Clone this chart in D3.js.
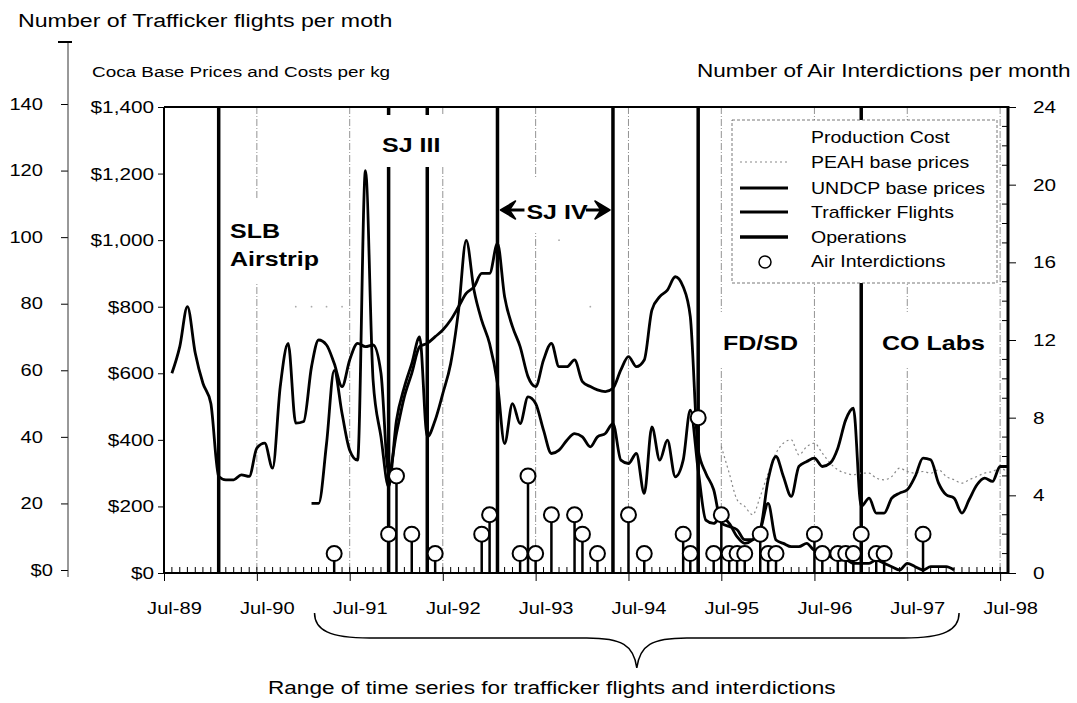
<!DOCTYPE html>
<html>
<head>
<meta charset="utf-8">
<script src="https://cdn.jsdelivr.net/npm/d3@7"></script>
<style>
body { margin: 0; background: #fff; }
svg { display: block; font-family: "Liberation Sans", Arial, sans-serif; }
</style>
</head>
<body>
<div id="chart"></div>
<script>
// ---- data ----
// monthly series, first value belongs to the start month
var undcpStart = "1989-08";
var undcpPrices = [600, 680, 800, 660, 570, 510, 290, 280, 280, 295, 290, 375, 390, 315, 560, 690,
    450, 455, 620, 700, 685, 630, 560, 640, 690, 680, 685, 600, 300, 420, 530, 600, 680, 690, 710,
    730, 760, 800, 840, 860, 900, 900, 990, 830, 740, 680, 590, 560, 640, 690, 620, 620, 640, 575,
    560, 550, 545, 555, 610, 650, 620, 640, 790, 830, 850, 890, 860, 770, 370, 300, 250, 150, 140,
    130, 100, 100, 130, 280, 350, 290, 230, 320, 335, 345, 320, 330, 375, 460, 495, 200, 225, 180,
    180, 225, 240, 250, 290, 345, 340, 270, 235, 225, 180, 220, 265, 285, 275, 320, 320];

var flightsStart = "1991-02";
var traffickerFlights = [20, 20, 38, 60, 47, 36, 33, 120, 57, 40, 25, 45, 55, 62, 70, 40, 45, 53,
    62, 78, 99, 84, 75, 68, 56, 38, 50, 44, 52, 50, 42, 35, 36, 39, 41, 40, 37, 40, 41, 44, 33, 32,
    35, 23, 43, 33, 39, 28, 33, 48, 30, 15, 14, 16, 14, 10, 8, 9, 12, 20, 9, 8, 7, 7, 8, 6, 6, 4, 3,
    3, 2, 2, 2, 3, 2, 1, 0, 2, 1, 0, 1, 1, 1, 0];

var peahStart = "1995-07";
var peahPrices = [380, 300, 220, 200, 175, 230, 300, 360, 390, 400, 355, 380, 390, 360, 330, 310,
    300, 295, 300, 300, 285, 280, 290, 315, 305, 300, 305, 300, 310, 290, 280, 270, 280, 290, 300,
    305, 315, 300];

// production cost is only a few faint dots in the scan
var prodCostMonths = ["1990-12", "1991-02", "1991-04", "1991-06", "1993-10", "1994-02"];
var prodCostValues = [800, 800, 800, 800, 1000, 800];

var interdictionMonths = ["1991-05", "1991-12", "1992-01", "1992-03", "1992-06", "1992-12",
    "1993-01", "1993-05", "1993-06", "1993-07", "1993-09", "1993-12", "1994-01", "1994-03",
    "1994-07", "1994-09", "1995-02", "1995-03", "1995-04", "1995-06", "1995-07", "1995-08",
    "1995-09", "1995-10", "1995-12", "1996-01", "1996-02", "1996-07", "1996-08", "1996-10",
    "1996-11", "1996-12", "1997-01", "1997-03", "1997-04", "1997-09"];
var interdictionCounts = [1, 2, 5, 2, 1, 2, 3, 1, 5, 1, 3, 3, 2, 1, 3, 1, 2, 1, 8, 1, 3, 1, 1, 1,
    2, 1, 1, 2, 1, 1, 1, 1, 2, 1, 1, 2];

var operationMonths = ["1990-02", "1991-12", "1992-05", "1993-02", "1994-05", "1995-04", "1997-01"];

var yearTicks = ["1989-07", "1990-07", "1991-07", "1992-07", "1993-07", "1994-07", "1995-07",
    "1996-07", "1997-07", "1998-07"];
var priceTicks = [0, 200, 400, 600, 800, 1000, 1200, 1400];
var flightTicks = [0, 20, 40, 60, 80, 100, 120, 140];
var interdictionTicks = [0, 4, 8, 12, 16, 20, 24];
var legendLabels = ["Production Cost", "PEAH base prices", "UNDCP base prices",
    "Trafficker Flights", "Operations", "Air Interdictions"];

// ---- setup ----
var W = 1077, H = 703;
var SX = 1.22;   // the scan is stretched sideways, so text is too
var parse = d3.timeParse("%Y-%m");

function monthly(start, vals) {
    var s = parse(start);
    return vals.map((v, i) => ({ date: d3.timeMonth.offset(s, i), value: v }));
}

var svg = d3.select("#chart").append("svg")
    .attr("width", W)
    .attr("height", H);

var x = d3.scaleTime().domain([parse("1989-07"), parse("1998-08")]).range([164, 1008]);
var yPrice = d3.scaleLinear().domain([0, 1400]).range([573, 107]);
var yFlights = d3.scaleLinear().domain([0, 140]).range([570, 104]);
var yInter = d3.scaleLinear().domain([0, 24]).range([573, 107]);

// widen text around its anchor point
function stretch(sel) {
    sel.each(function () {
        var t = d3.select(this);
        var tx = +t.attr("x") || 0, ty = +t.attr("y") || 0;
        t.attr("x", null).attr("y", null)
            .attr("transform", "translate(" + tx + "," + ty + ") scale(" + SX + ",1)");
    });
}

function addText(px, py, str, size, bold, anchor) {
    return svg.append("text")
        .attr("x", px).attr("y", py)
        .attr("font-size", size)
        .attr("font-weight", bold ? "bold" : "normal")
        .attr("text-anchor", anchor || "start")
        .attr("fill", "#000")
        .text(str)
        .call(stretch);
}

// ---- grid lines at each July ----
svg.append("g").selectAll("line")
    .data(yearTicks.slice(1))
    .enter().append("line")
    .attr("x1", d => x(parse(d))).attr("x2", d => x(parse(d)))
    .attr("y1", yPrice(1400)).attr("y2", yPrice(0))
    .attr("stroke", "#777")
    .attr("stroke-width", 0.8)
    .attr("stroke-dasharray", "7,2,1,2");

// ---- operations ----
svg.append("g").selectAll("line")
    .data(operationMonths)
    .enter().append("line")
    .attr("x1", d => x(parse(d))).attr("x2", d => x(parse(d)))
    .attr("y1", yPrice(1400)).attr("y2", yPrice(0))
    .attr("stroke", "#000")
    .attr("stroke-width", 3.5);

// ---- operation labels (white boxes hide the lines behind them) ----
var boxes = [[224, 200, 100, 83], [378, 115, 68, 52], [500, 177, 110, 56],
    [718, 312, 84, 55], [878, 312, 112, 55]];
svg.append("g").selectAll("rect")
    .data(boxes)
    .enter().append("rect")
    .attr("x", d => d[0]).attr("y", d => d[1])
    .attr("width", d => d[2]).attr("height", d => d[3])
    .attr("fill", "#fff");

addText(230, 238, "SLB", 20.5, true);
addText(230, 266, "Airstrip", 20.5, true);
addText(382, 152, "SJ III", 20.5, true);
addText(557, 219, "SJ IV", 20.5, true, "middle");
addText(723, 350, "FD/SD", 20.5, true);
addText(882, 350, "CO Labs", 20.5, true);

// SJ IV arrows between its two operation lines (filled heads, short shafts)
var xa = x(parse(operationMonths[3])) + 3, xb = x(parse(operationMonths[4])) - 3;
svg.append("path")
    .attr("d", "M" + xa + ",210 L" + (xa + 15) + ",201 L" + (xa + 9) + ",210 L" + (xa + 15) + ",219 Z" +
        " M" + xb + ",210 L" + (xb - 15) + ",201 L" + (xb - 9) + ",210 L" + (xb - 15) + ",219 Z")
    .attr("fill", "#000")
    .attr("stroke", "#000")
    .attr("stroke-width", 1.5)
    .attr("stroke-linejoin", "round");
svg.append("path")
    .attr("d", "M" + (xa + 6) + ",210 L" + (xa + 24) + ",210 M" + (xb - 6) + ",210 L" + (xb - 24) + ",210")
    .attr("stroke", "#000")
    .attr("stroke-width", 3);

// ---- series ----
var priceLine = d3.line()
    .x(d => x(d.date))
    .y(d => yPrice(d.value))
    .curve(d3.curveMonotoneX);

var flightLine = d3.line()
    .x(d => x(d.date))
    .y(d => yFlights(d.value))
    .curve(d3.curveMonotoneX);

svg.append("g").selectAll("circle")
    .data(prodCostMonths.map((m, i) => ({ date: parse(m), value: prodCostValues[i] })))
    .enter().append("circle")
    .attr("cx", d => x(d.date))
    .attr("cy", d => yPrice(d.value))
    .attr("r", 0.9)
    .attr("fill", "#aaa");

svg.append("path")
    .datum(monthly(peahStart, peahPrices))
    .attr("d", priceLine)
    .attr("fill", "none")
    .attr("stroke", "#888")
    .attr("stroke-width", 1.2)
    .attr("stroke-dasharray", "2,3");

svg.append("path")
    .datum(monthly(undcpStart, undcpPrices))
    .attr("d", priceLine)
    .attr("fill", "none")
    .attr("stroke", "#000")
    .attr("stroke-width", 2.8)
    .attr("stroke-linejoin", "round");

svg.append("path")
    .datum(monthly(flightsStart, traffickerFlights))
    .attr("d", flightLine)
    .attr("fill", "none")
    .attr("stroke", "#000")
    .attr("stroke-width", 2.8)
    .attr("stroke-linejoin", "round");

// ---- air interdictions ----
var inter = interdictionMonths.map((m, i) => ({ date: parse(m), value: interdictionCounts[i] }));
var pins = svg.append("g").selectAll("g")
    .data(inter)
    .enter().append("g");
pins.append("line")
    .attr("x1", d => x(d.date)).attr("x2", d => x(d.date))
    .attr("y1", yInter(0)).attr("y2", d => yInter(d.value))
    .attr("stroke", "#000")
    .attr("stroke-width", 2.5);
pins.append("circle")
    .attr("cx", d => x(d.date))
    .attr("cy", d => yInter(d.value))
    .attr("r", 7.5)
    .attr("fill", "#fff")
    .attr("stroke", "#000")
    .attr("stroke-width", 2);

// ---- legend ----
var lg = svg.append("g");
lg.append("rect")
    .attr("x", 732).attr("y", 120)
    .attr("width", 265).attr("height", 163)
    .attr("fill", "#fff")
    .attr("stroke", "#555")
    .attr("stroke-width", 0.8)
    .attr("stroke-dasharray", "3,2");
var rowY = [143, 168, 194, 218, 243, 267];
legendLabels.forEach((name, i) => addText(811, rowY[i], name, 16, false));
lg.append("line").attr("x1", 740).attr("x2", 788).attr("y1", 162).attr("y2", 162)
    .attr("stroke", "#888").attr("stroke-width", 1.2).attr("stroke-dasharray", "2,3");
[188, 212].forEach(yy => lg.append("line").attr("x1", 740).attr("x2", 788)
    .attr("y1", yy).attr("y2", yy).attr("stroke", "#000").attr("stroke-width", 3));
lg.append("line").attr("x1", 740).attr("x2", 788).attr("y1", 237).attr("y2", 237)
    .attr("stroke", "#000").attr("stroke-width", 3.5);
lg.append("circle").attr("cx", 765).attr("cy", 262).attr("r", 6)
    .attr("fill", "#fff").attr("stroke", "#000").attr("stroke-width", 1.5);

// ---- axes ----
function tidy(g, size) {
    g.attr("font-family", null).attr("font-size", null);
    g.select(".domain").remove();
    g.selectAll(".tick line").attr("stroke", "#000");
    g.selectAll("text").attr("font-size", size).attr("fill", "#000");
}

// x axis
var gx = svg.append("g")
    .attr("transform", "translate(0,573)")
    .call(d3.axisBottom(x)
        .tickValues(yearTicks.map(parse))
        .tickSize(8)
        .tickPadding(21)
        .tickFormat(d3.timeFormat("%b-%y")));
tidy(gx, 16.5);
gx.selectAll("text").attr("x", 10).call(stretch);
svg.append("g").selectAll("line")
    .data(d3.timeMonth.range(parse("1989-08"), parse("1998-08")))
    .enter().append("line")
    .attr("x1", d => x(d)).attr("x2", d => x(d))
    .attr("y1", 573).attr("y2", 567)
    .attr("stroke", "#000")
    .attr("stroke-width", 1);

// price axis
var gp = svg.append("g")
    .attr("transform", "translate(164,0)")
    .call(d3.axisLeft(yPrice)
        .tickValues(priceTicks)
        .tickSize(6)
        .tickPadding(4)
        .tickFormat(d3.format("$,")));
tidy(gp, 17);
gp.selectAll("text").call(stretch);

// flights axis (outer, left)
var gf = svg.append("g")
    .attr("transform", "translate(68,0)")
    .call(d3.axisLeft(yFlights)
        .tickValues(flightTicks)
        .tickSize(7)
        .tickPadding(18)
        .tickFormat(d => d === 0 ? "$0" : d));
tidy(gf, 16.5);
gf.selectAll("text").filter(d => d === 0).attr("x", -15);
gf.selectAll("text").call(stretch);
svg.append("line").attr("x1", 68).attr("x2", 68).attr("y1", 42).attr("y2", 577)
    .attr("stroke", "#333").attr("stroke-width", 1);
svg.append("line").attr("x1", 58).attr("x2", 72).attr("y1", 42).attr("y2", 42)
    .attr("stroke", "#000").attr("stroke-width", 2);

// interdiction axis (right)
var gi = svg.append("g")
    .attr("transform", "translate(1008,0)")
    .call(d3.axisRight(yInter)
        .tickValues(interdictionTicks)
        .tickSize(8)
        .tickPadding(17));
tidy(gi, 17);
gi.selectAll("text").call(stretch);
svg.append("g").selectAll("line")
    .data(d3.range(0, 25).filter(d => d % 4 !== 0))
    .enter().append("line")
    .attr("x1", 1002).attr("x2", 1008)
    .attr("y1", d => yInter(d)).attr("y2", d => yInter(d))
    .attr("stroke", "#000");

// plot frame
svg.append("line").attr("x1", 164).attr("x2", 1008).attr("y1", 107).attr("y2", 107)
    .attr("stroke", "#000").attr("stroke-width", 2);
svg.append("line").attr("x1", 164).attr("x2", 1008).attr("y1", 573).attr("y2", 573)
    .attr("stroke", "#000").attr("stroke-width", 2);
svg.append("line").attr("x1", 164).attr("x2", 164).attr("y1", 107).attr("y2", 574)
    .attr("stroke", "#000").attr("stroke-width", 2);
svg.append("line").attr("x1", 1008).attr("x2", 1008).attr("y1", 106).attr("y2", 574)
    .attr("stroke", "#000").attr("stroke-width", 3);

// ---- titles ----
addText(18, 27, "Number of Trafficker flights per moth", 19, false);
addText(92, 77, "Coca Base Prices and Costs per kg", 15.5, false);
addText(697, 77, "Number of Air Interdictions per month", 18.5, false);

// ---- brace under the flight/interdiction range ----
var b0 = x(parse(flightsStart)) + 3;
var b1 = x(d3.timeMonth.offset(parse(flightsStart), traffickerFlights.length - 1)) + 5;
var bm = (b0 + b1) / 2;
svg.append("path")
    .attr("d", "M" + b0 + ",613 C" + b0 + ",630 " + (b0 + 15) + ",638 " + (b0 + 55) + ",638" +
        " L" + (bm - 50) + ",638 C" + (bm - 15) + ",638 " + (bm - 3) + ",645 " + bm + ",668" +
        " C" + (bm + 3) + ",645 " + (bm + 15) + ",638 " + (bm + 50) + ",638" +
        " L" + (b1 - 55) + ",638 C" + (b1 - 15) + ",638 " + b1 + ",630 " + b1 + ",613")
    .attr("fill", "none")
    .attr("stroke", "#000")
    .attr("stroke-width", 1.5);
addText(bm - 85, 694, "Range of time series for trafficker flights and interdictions", 18.5, false, "middle");
</script>
</body>
</html>
